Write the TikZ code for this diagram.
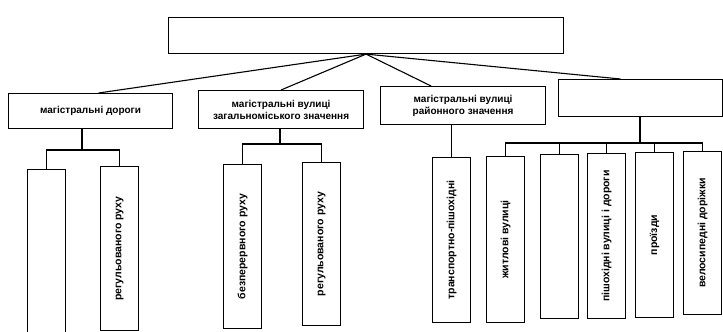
\documentclass[tikz,border=0pt]{standalone}
\usepackage{fontspec}
\setmainfont{Liberation Sans}
\begin{document}
\begin{tikzpicture}[x=1pt,y=-1pt,
    box/.style={draw,line width=1.1pt,anchor=north west,align=center,inner sep=1pt,font=\fontsize{10}{12}\selectfont\bfseries},
    vbox/.style={draw,line width=1.1pt,anchor=north west,inner sep=0pt,minimum width=38pt,font=\fontsize{10.5}{12}\selectfont\bfseries},
    link/.style={line width=1.1pt}]
    \useasboundingbox (0,0) rectangle (723,332);
    \clip (0,0) rectangle (723,332);
    %% Top level
    \node[box,minimum width=395pt,minimum height=36pt] (top) at (168,17) {};
    %% Second level
    \node[box,minimum width=164pt,minimum height=35pt] (A) at (8,93) {магістральні дороги};
    \node[box,minimum width=165pt,minimum height=38pt] (B) at (198,90) {магістральні вулиці\\загальноміського значення};
    \node[box,minimum width=165pt,minimum height=38pt] (C) at (380,86) {магістральні вулиці\\районного значення};
    \node[box,minimum width=164pt,minimum height=37pt] (D) at (558,79) {};
    %% Third level
    \node[vbox,minimum height=170pt] (A1) at (27,169) {};
    \node[vbox,minimum height=164pt] (A2) at (100,166) {\rotatebox{90}{регульованого руху}};
    \node[vbox,minimum height=164pt] (B1) at (223,164) {\rotatebox{90}{безперервного руху}};
    \node[vbox,minimum height=163pt] (B2) at (302,162) {\rotatebox{90}{регульованого руху}};
    \node[vbox,minimum height=165pt] (C1) at (432,157) {\rotatebox{90}{транспортно-пішохідні}};
    \node[vbox,minimum height=166pt] (D1) at (486,156) {\rotatebox{90}{житлові вулиці}};
    \node[vbox,minimum height=164pt] (D2) at (540,154) {};
    \node[vbox,minimum height=165pt] (D3) at (587,153) {\rotatebox{90}{пішохідні вулиці і дороги}};
    \node[vbox,minimum height=165pt] (D4) at (635,152) {\rotatebox{90}{проїзди}};
    \node[vbox,minimum height=163pt] (D5) at (683,151) {\rotatebox{90}{велосипедні доріжки}};
    %% Links from the top
    \foreach \n/\s in {A/8,B/0,C/-32,D/-20}
        \draw[link] (top.south) -- ([xshift=\s pt]\n.north);
    %% Branches
    \coordinate (Abar) at (82,150);
    \coordinate (Bbar) at (280,144);
    \coordinate (Dbar) at (640,143);
    \draw[link] (A.south -| Abar) -- (Abar);
    \draw[link] (A1.north) |- (Abar) -| (A2.north);
    \draw[link] (B.south -| Bbar) -- (Bbar);
    \draw[link] (B1.north) |- (Bbar) -| (B2.north);
    \draw[link] (C1.north) -- (C1.north |- C.south);
    \draw[link] (D.south -| Dbar) -- (Dbar);
    \draw[link] (D1.north) |- (Dbar) -| (D5.north);
    \foreach \n in {2,3,4}
        \draw[link] (D\n.north) -- (D\n.north |- Dbar);
\end{tikzpicture}
\end{document}
